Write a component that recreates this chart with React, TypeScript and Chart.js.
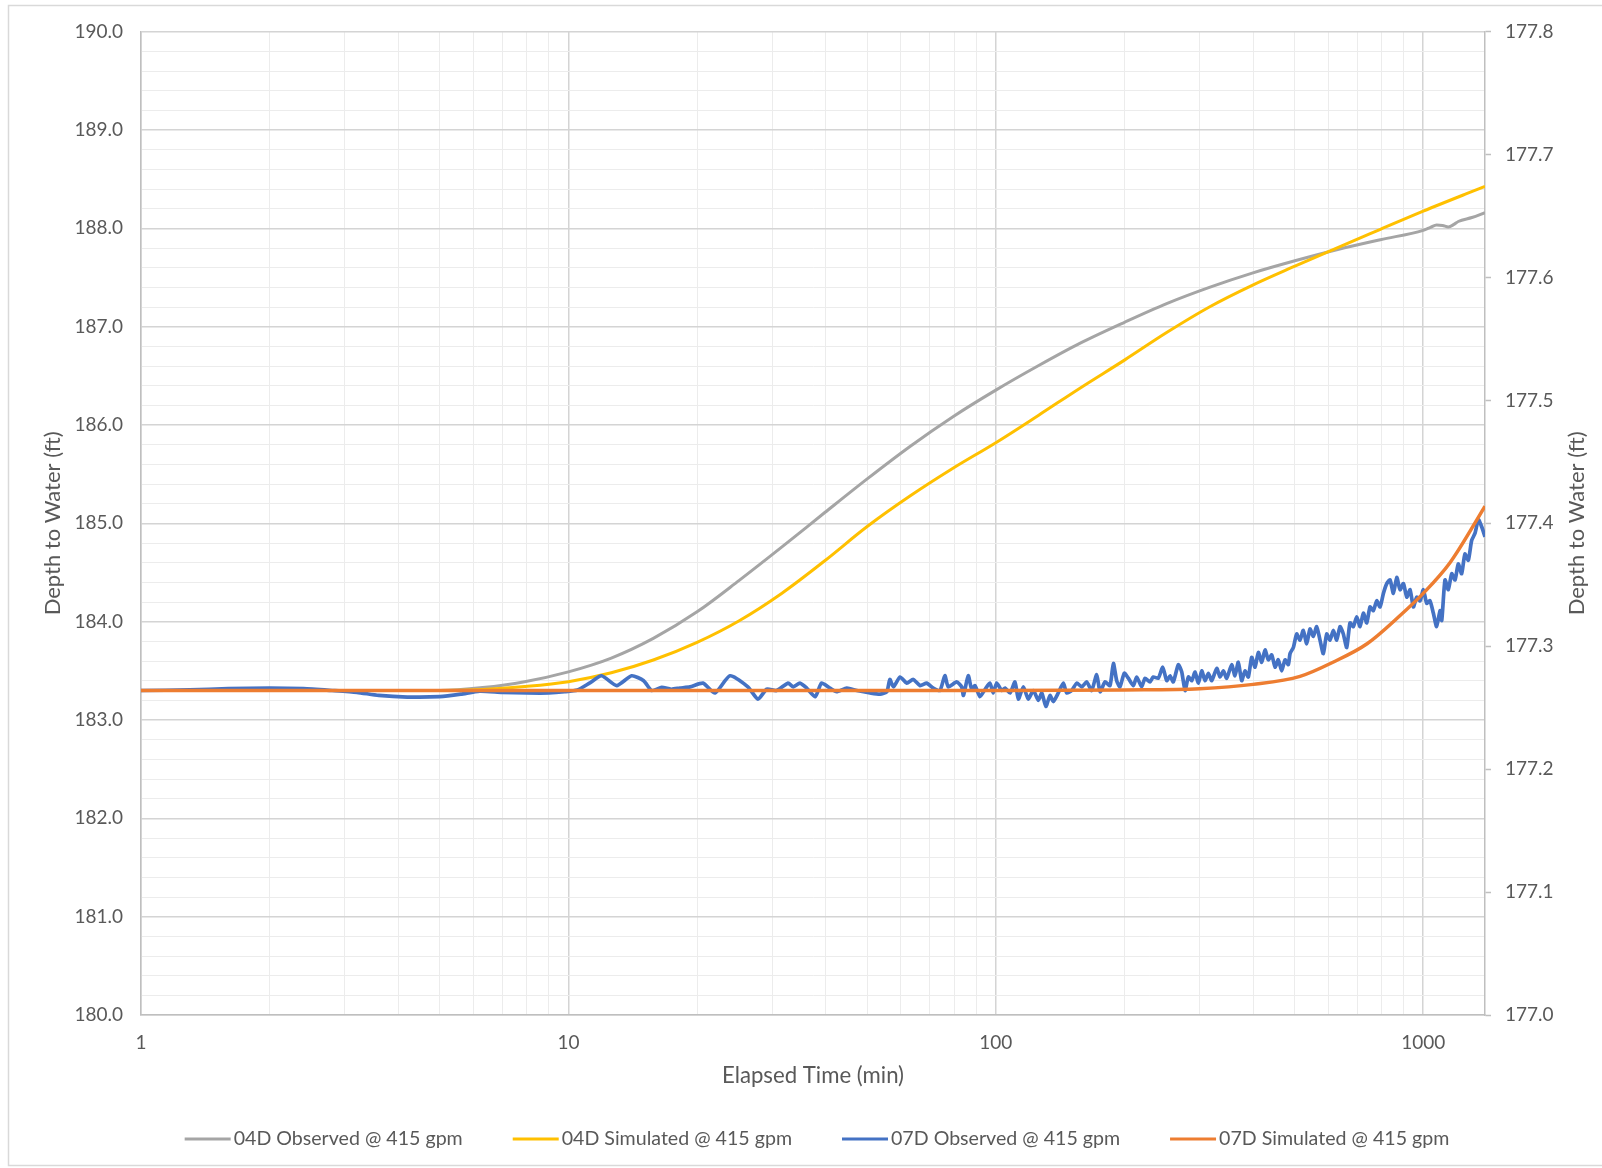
import { useEffect, useRef } from "react";
import { Chart, registerables } from "chart.js";

Chart.register(...registerables);

// ---------- data ----------
const xMajorTicks = [1, 10, 100, 1000];
const xMax = 1395;
const leftAxisRange = [180, 190];
const rightAxisRange = [177.0, 177.8];
const xTitle = "Elapsed Time (min)";
const yTitle = "Depth to Water (ft)";

const seriesNames = [
  "04D Observed @ 415 gpm",
  "04D Simulated @ 415 gpm",
  "07D Observed @ 415 gpm",
  "07D Simulated @ 415 gpm",
];
const seriesColors = ["#A5A5A5", "#FFC000", "#4472C4", "#ED7D31"];

// 04D Observed (left axis)
const obs04DTime = [1, 3, 5, 6.3, 7.9, 10, 12.6, 15.8, 20, 25.1, 31.6, 39.8, 50.1, 63.1, 79.4, 100, 126, 158, 200, 251, 316, 398, 501, 631, 794, 1000, 1040, 1075, 1110, 1145, 1180, 1208, 1300, 1395];
const obs04DDepth = [183.3, 183.3, 183.3, 183.33, 183.39, 183.49, 183.63, 183.83, 184.1, 184.42, 184.76, 185.11, 185.455, 185.785, 186.085, 186.355, 186.605, 186.835, 187.045, 187.235, 187.4, 187.545, 187.67, 187.785, 187.885, 187.98, 188.01, 188.035, 188.03, 188.015, 188.04, 188.07, 188.11, 188.16];

// 04D Simulated (left axis)
const sim04DTime = [1, 3, 5, 6.3, 7.9, 10, 12.6, 15.8, 20, 25.1, 31.6, 39.8, 50.1, 63.1, 79.4, 100, 126, 158, 200, 251, 316, 398, 501, 631, 794, 1000, 1259, 1395];
const sim04DDepth = [183.3, 183.3, 183.3, 183.31, 183.34, 183.39, 183.48, 183.61, 183.79, 184.01, 184.29, 184.62, 184.97, 185.28, 185.56, 185.82, 186.1, 186.38, 186.66, 186.94, 187.2, 187.42, 187.615, 187.805, 187.99, 188.175, 188.35, 188.426];

// 07D Observed (right axis)
const obs07DTime = [
  1, 1.3, 1.6, 2.0, 2.4, 2.8, 3.2, 3.6, 4.2, 5.0, 5.6, 6.2, 7.0, 8.0, 9.0, 9.8, 10.5, 11.2, 11.96, 12.97,
  14.06, 15.0, 15.66, 16.53, 17.4, 18.24, 19.26, 20.65, 22.03, 23.88, 26.3, 27.78, 29.1, 30.7, 32.66, 33.6, 34.8, 36.1, 37.8, 39.1,
  40.9, 42.4, 44.8, 47.3, 50.8, 53.6, 55.6, 56.5, 57.6, 59.7, 61.9, 64.1, 66.5, 68.9, 71.4, 74.0, 76.0, 77.4, 81.0, 83.2,
  84.0, 86.2, 87.8, 89.4, 91.8, 94.4, 96.9, 98.6, 100.5, 103.2, 105.1, 108, 110.9, 112.9, 116, 119.1, 122.4, 125.8, 128.1, 131,
  133.9, 136.3, 140, 143.9, 146.5, 150.5, 154.7, 158.9, 163.2, 167.6, 172.2, 175.4, 180.1, 185, 188.4, 191.8, 195.2, 199.8, 204.2, 209.8,
  213.6, 219.4, 223.4, 229.5, 233.6, 240, 245.8, 251.1, 255.6, 260.2, 267.3, 272.3, 277.2, 282.2, 287.4, 292.6, 297.8, 303.3, 308.7, 314.3,
  320.1, 328.8, 334.7, 340.7, 347, 356.3, 362.7, 369.3, 376.1, 382.8, 389.8, 396.9, 404.1, 411.4, 419, 426.5, 434.2, 442.2, 450.1, 458.1,
  466.6, 475, 483.5, 488, 496.8, 505.8, 514.9, 524.2, 533.8, 543.4, 553.3, 563.4, 573.5, 583.9, 594.6, 605.3, 616.2, 627.5, 638.8, 650.3,
  662.3, 674.2, 686.4, 699, 711.5, 724.4, 737.7, 750.9, 764.5, 778.6, 792.5, 806.9, 821.7, 836.4, 851.6, 867.2, 882.8, 898.8, 915.3, 931.7,
  948.5, 965.9, 983.1, 1000.7, 1019, 1037, 1056, 1075, 1095, 1105, 1124.6, 1144.8, 1166, 1187, 1208, 1230, 1252, 1275, 1298, 1322,
  1346, 1371, 1395,
];
const obs07DDepth = [
  177.264, 177.2645, 177.2655, 177.266, 177.2655, 177.264, 177.2625, 177.26, 177.2587, 177.259, 177.261, 177.2635, 177.2625, 177.262, 177.262, 177.263, 177.2645, 177.27, 177.276, 177.268,
  177.276, 177.272, 177.264, 177.2665, 177.265, 177.266, 177.267, 177.27, 177.262, 177.276, 177.267, 177.257, 177.265, 177.264, 177.27, 177.267, 177.27, 177.266, 177.259, 177.27,
  177.266, 177.263, 177.266, 177.264, 177.262, 177.261, 177.263, 177.273, 177.267, 177.275, 177.27, 177.273, 177.268, 177.27, 177.266, 177.264, 177.276, 177.267, 177.271, 177.267,
  177.26, 177.276, 177.265, 177.268, 177.259, 177.265, 177.27, 177.262, 177.27, 177.264, 177.266, 177.262, 177.271, 177.257, 177.267, 177.257, 177.264, 177.256, 177.262, 177.251,
  177.26, 177.255, 177.262, 177.27, 177.262, 177.264, 177.27, 177.267, 177.271, 177.264, 177.277, 177.263, 177.271, 177.268, 177.286, 177.272, 177.267, 177.278, 177.274, 177.268,
  177.275, 177.267, 177.274, 177.271, 177.275, 177.274, 177.283, 177.272, 177.276, 177.271, 177.285, 177.279, 177.264, 177.275, 177.272, 177.279, 177.27, 177.28, 177.272, 177.278,
  177.272, 177.282, 177.275, 177.28, 177.274, 177.285, 177.276, 177.287, 177.272, 177.28, 177.275, 177.291, 177.283, 177.295, 177.287, 177.297, 177.289, 177.293, 177.283, 177.289,
  177.28, 177.289, 177.285, 177.294, 177.299, 177.31, 177.305, 177.313, 177.302, 177.314, 177.308, 177.316, 177.305, 177.294, 177.31, 177.305, 177.313, 177.305, 177.316, 177.31,
  177.299, 177.319, 177.316, 177.324, 177.316, 177.327, 177.319, 177.332, 177.329, 177.337, 177.332, 177.343, 177.351, 177.354, 177.343, 177.356, 177.346, 177.351, 177.34, 177.346,
  177.332, 177.34, 177.337, 177.346, 177.335, 177.337, 177.327, 177.316, 177.329, 177.321, 177.354, 177.346, 177.359, 177.354, 177.367, 177.359, 177.375, 177.37, 177.386, 177.392,
  177.403, 177.397, 177.389,
];

// 07D Simulated (right axis)
const sim07DTime = [1, 10, 100, 200, 300, 400, 515, 615, 739, 883, 1000, 1155, 1336, 1395];
const sim07DDepth = [177.264, 177.264, 177.264, 177.2645, 177.2655, 177.269, 177.2755, 177.287, 177.302, 177.325, 177.343, 177.368, 177.403, 177.414];

// ---------- styling ----------
const FONT = "Lato, 'Liberation Sans', sans-serif";
const TEXT = "#595959";
const GRID_MAJOR = "#d4d4d4";
const GRID_MINOR = "#ececec";
const AXIS = "#bfbfbf";

const toPoints = (xs: number[], ys: number[]) => xs.map((x, i) => ({ x, y: ys[i] }));
const isInt = (v: number) => Math.abs(v - Math.round(v)) < 1e-6;

const excelPlugin = {
  id: "excelFrame",
  beforeDraw(chart: any) {
    const { ctx, width, height } = chart;
    ctx.save();
    ctx.fillStyle = "#ffffff";
    ctx.fillRect(0, 0, width, height);
    ctx.strokeStyle = "#d9d9d9";
    ctx.lineWidth = 1.5;
    ctx.strokeRect(8.5, 5.5, 1600, 1160);
    ctx.restore();
  },
  afterDraw(chart: any) {
    const { ctx, chartArea } = chart;
    const ds = chart.data.datasets;
    ctx.save();
    // secondary axis title, rotated like the primary one
    ctx.font = `22px ${FONT}`;
    ctx.fillStyle = TEXT;
    ctx.textAlign = "center";
    ctx.textBaseline = "middle";
    ctx.translate(1577, (chartArea.top + chartArea.bottom) / 2);
    ctx.rotate(-Math.PI / 2);
    ctx.fillText(yTitle, 0, 0);
    ctx.restore();

    // legend
    ctx.save();
    ctx.font = `19.6px ${FONT}`;
    const lineLen = 46;
    const textGap = 3;
    const itemGap = 50;
    const widths = ds.map((d: any) => ctx.measureText(d.label).width);
    const total = widths.reduce((a: number, w: number) => a + lineLen + textGap + w, 0) + itemGap * (ds.length - 1);
    let x = 817 - total / 2;
    const y = 1139;
    ds.forEach((d: any, i: number) => {
      ctx.strokeStyle = d.borderColor;
      ctx.lineWidth = 3;
      ctx.beginPath();
      ctx.moveTo(x, y);
      ctx.lineTo(x + lineLen, y);
      ctx.stroke();
      ctx.fillStyle = TEXT;
      ctx.textBaseline = "middle";
      ctx.textAlign = "left";
      ctx.fillText(d.label, x + lineLen + textGap, y);
      x += lineLen + textGap + widths[i] + itemGap;
    });
    ctx.restore();
  },
};

export default function App() {
  const canvasRef = useRef<HTMLCanvasElement | null>(null);

  useEffect(() => {
    if (!canvasRef.current) return;
    const chart = new Chart(canvasRef.current, {
      type: "line",
      data: {
        datasets: [
          {
            label: seriesNames[0],
            data: toPoints(obs04DTime, obs04DDepth),
            borderColor: seriesColors[0],
            borderWidth: 3,
            pointRadius: 0,
            cubicInterpolationMode: "monotone",
            yAxisID: "y",
            order: 4,
          },
          {
            label: seriesNames[1],
            data: toPoints(sim04DTime, sim04DDepth),
            borderColor: seriesColors[1],
            borderWidth: 3,
            pointRadius: 0,
            cubicInterpolationMode: "monotone",
            yAxisID: "y",
            order: 3,
          },
          {
            label: seriesNames[2],
            data: toPoints(obs07DTime, obs07DDepth),
            borderColor: seriesColors[2],
            borderWidth: 3.7,
            pointRadius: 0,
            tension: 0.2,
            yAxisID: "y2",
            order: 2,
          },
          {
            label: seriesNames[3],
            data: toPoints(sim07DTime, sim07DDepth),
            borderColor: seriesColors[3],
            borderWidth: 3.5,
            pointRadius: 0,
            cubicInterpolationMode: "monotone",
            yAxisID: "y2",
            order: 1,
          },
        ],
      },
      options: {
        responsive: false,
        animation: false,
        devicePixelRatio: 1,
        layout: { padding: { left: 0, right: 0, top: 31.7, bottom: 73 } },
        plugins: {
          legend: { display: false },
          tooltip: { enabled: false },
        },
        scales: {
          x: {
            type: "logarithmic",
            position: "bottom",
            min: xMajorTicks[0],
            max: xMax,
            afterBuildTicks: (scale: any) => {
              const t: { value: number }[] = [];
              for (let d = 0; d < xMajorTicks.length - 1; d++) {
                for (let m = 1; m <= 9; m++) t.push({ value: xMajorTicks[d] * m });
              }
              t.push({ value: xMajorTicks[xMajorTicks.length - 1] });
              scale.ticks = t;
            },
            afterFit: (scale: any) => {
              scale.height = 80;
            },
            ticks: {
              autoSkip: false,
              maxRotation: 0,
              padding: 16,
              color: TEXT,
              font: { family: FONT, size: 19 },
              callback: (v: any) => (xMajorTicks.includes(Number(v)) ? String(v) : ""),
            },
            grid: {
              drawTicks: false,
              color: (ctx: any) => (ctx.tick && xMajorTicks.includes(ctx.tick.value) ? GRID_MAJOR : GRID_MINOR),
              lineWidth: (ctx: any) => (ctx.tick && xMajorTicks.includes(ctx.tick.value) ? 1.5 : 1),
            },
            border: { color: AXIS, width: 1.5 },
            title: {
              display: true,
              text: xTitle,
              color: TEXT,
              font: { family: FONT, size: 22.2 },
              padding: { top: 0, bottom: 6 },
            },
          },
          y: {
            type: "linear",
            position: "left",
            min: leftAxisRange[0],
            max: leftAxisRange[1],
            afterBuildTicks: (scale: any) => {
              const t: { value: number }[] = [];
              for (let i = 0; i <= 50; i++) t.push({ value: (leftAxisRange[0] * 10 + 2 * i) / 10 });
              scale.ticks = t;
            },
            afterFit: (scale: any) => {
              scale.width = 141;
            },
            ticks: {
              autoSkip: false,
              padding: 18,
              color: TEXT,
              font: { family: FONT, size: 19 },
              callback: (v: any) => (isInt(Number(v)) ? Number(v).toFixed(1) : ""),
            },
            grid: {
              drawTicks: false,
              color: (ctx: any) => (ctx.tick && isInt(ctx.tick.value) ? GRID_MAJOR : GRID_MINOR),
              lineWidth: (ctx: any) => (ctx.tick && isInt(ctx.tick.value) ? 1.5 : 1),
            },
            border: { color: AXIS, width: 1.5 },
            title: {
              display: true,
              text: yTitle,
              color: TEXT,
              font: { family: FONT, size: 22 },
              padding: { top: 40, bottom: 0 },
            },
          },
          y2: {
            type: "linear",
            position: "right",
            min: rightAxisRange[0],
            max: rightAxisRange[1],
            afterBuildTicks: (scale: any) => {
              const t: { value: number }[] = [];
              for (let i = 0; i <= 8; i++) t.push({ value: (rightAxisRange[0] * 10 + i) / 10 });
              scale.ticks = t;
            },
            afterFit: (scale: any) => {
              scale.width = 117;
            },
            ticks: {
              autoSkip: false,
              padding: 14,
              color: TEXT,
              font: { family: FONT, size: 19 },
              callback: (v: any) => Number(v).toFixed(1),
            },
            grid: {
              drawOnChartArea: false,
              drawTicks: true,
              tickLength: 6,
              tickColor: AXIS,
              tickWidth: 1.5,
            },
            border: { color: AXIS, width: 1.5 },
            title: { display: false },
          },
        },
      },
      plugins: [excelPlugin],
    } as any);
    return () => chart.destroy();
  }, []);

  return (
    <div style={{ position: "absolute", left: 0, top: 0, width: 1602, height: 1168, background: "#fff" }}>
      <canvas ref={canvasRef} width={1602} height={1168} style={{ display: "block", width: 1602, height: 1168 }} />
    </div>
  );
}
